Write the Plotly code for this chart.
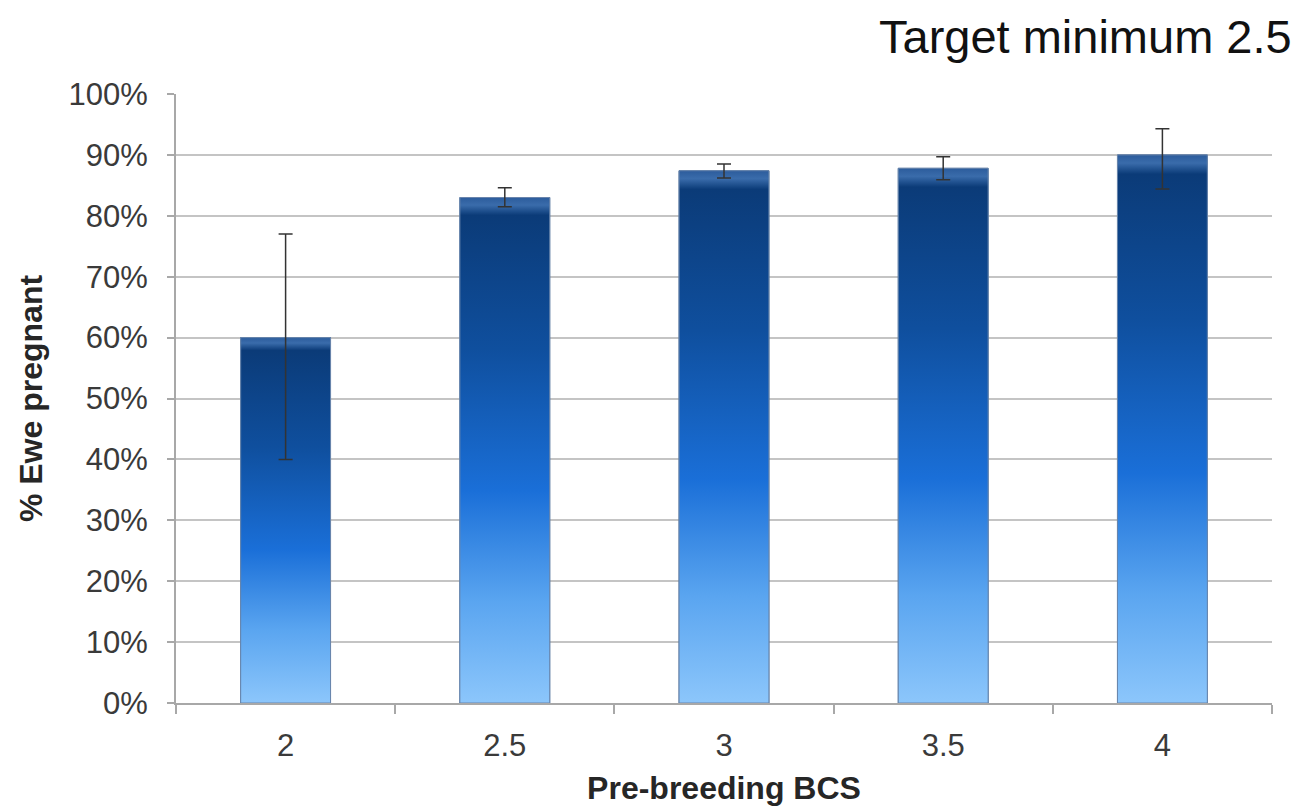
import plotly.graph_objects as go

categories = ["2", "2.5", "3", "3.5", "4"]
pregnant_pct = [60.0, 83.0, 87.4, 87.8, 90.0]
err_plus = [17.0, 1.6, 1.1, 1.9, 4.3]
err_minus = [20.0, 1.5, 1.2, 1.9, 5.6]
y_ticks = [0, 10, 20, 30, 40, 50, 60, 70, 80, 90, 100]

xpos = list(range(len(categories)))
bar_w = 0.41

fig = go.Figure()

# Base bars (data marks)
fig.add_trace(go.Bar(
    x=xpos, y=pregnant_pct, width=bar_w,
    marker=dict(color="#1a5fb4", line=dict(color="#4a6f9a", width=1)),
    showlegend=False, hoverinfo="skip",
))

# Gradient overlay for each bar built from the same data
for xi, v in zip(xpos, pregnant_pct):
    x0, x1 = xi - bar_w / 2, xi + bar_w / 2
    fig.add_trace(go.Scatter(
        x=[x0, x1, x1, x0, x0], y=[0, 0, v, v, 0],
        mode="lines", fill="toself",
        line=dict(color="#6a86ac", width=1),
        fillgradient=dict(
            type="vertical",
            colorscale=[[0.0, "#8cc6fb"], [0.2, "#5aa5f0"], [0.42, "#1a6fd8"],
                        [0.7, "#0f4f9e"], [0.965, "#0b3b78"], [0.985, "#3a6cab"], [1.0, "#2c5c9c"]],
        ),
        showlegend=False, hoverinfo="skip",
    ))

# Error bars
fig.add_trace(go.Scatter(
    x=xpos, y=pregnant_pct, mode="markers",
    marker=dict(size=1, color="rgba(0,0,0,0)"),
    error_y=dict(type="data", symmetric=False, array=err_plus, arrayminus=err_minus,
                 color="#333333", thickness=1.5, width=7),
    showlegend=False, hoverinfo="skip",
))

fig.update_layout(
    width=1298, height=798,
    paper_bgcolor="white", plot_bgcolor="white",
    margin=dict(l=168, r=34, t=86, b=103, autoexpand=False),
    font=dict(family="Liberation Sans, Arial, sans-serif", color="#3a3a3a", size=31),
    annotations=[dict(
        text="Target minimum 2.5", xref="paper", yref="paper",
        x=1.0, y=1.0, xshift=22, yshift=86, xanchor="right", yanchor="top",
        showarrow=False, font=dict(size=47, color="#111111"),
    )],
)

fig.update_xaxes(
    range=[-0.5, 4.5], automargin=False,
    tickmode="array", tickvals=xpos, ticktext=categories, ticks="",
    ticklabelstandoff=14,
    showline=True, linecolor="#a8a8a8", linewidth=2,
    showgrid=False, zeroline=False,
    minor=dict(tick0=-0.5, dtick=1, ticks="outside", ticklen=9, tickcolor="#a8a8a8", tickwidth=2),
    tickfont=dict(size=31, color="#3a3a3a"),
    title=dict(text="<b>Pre-breeding BCS</b>", font=dict(size=32, color="#262626"), standoff=14),
)

fig.update_yaxes(
    range=[0, 100], automargin=False,
    tickmode="array", tickvals=y_ticks, ticktext=[f"{t}%" for t in y_ticks],
    ticks="outside", ticklen=7, tickcolor="#a8a8a8", tickwidth=2,
    ticklabelstandoff=13,
    showline=True, linecolor="#a8a8a8", linewidth=2,
    showgrid=True, gridcolor="#c4c4c4", gridwidth=2,
    zeroline=False,
    tickfont=dict(size=31, color="#3a3a3a"),
    title=dict(text="<b>% Ewe pregnant</b>", font=dict(size=32, color="#262626"), standoff=16),
)

fig.write_html("out.html")
